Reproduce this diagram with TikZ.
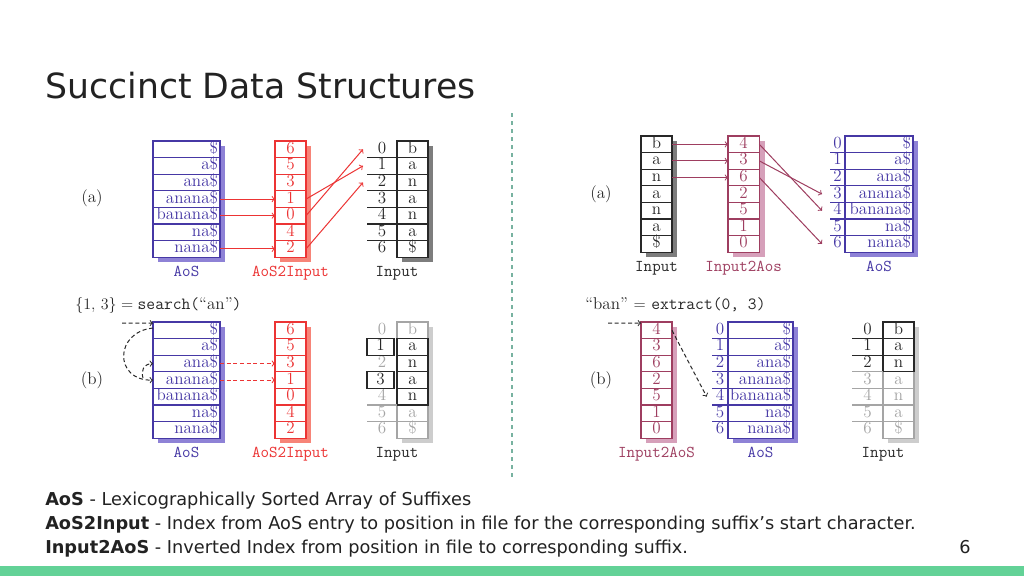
\documentclass[tikz,border=0pt]{standalone}
\usepackage{fontspec}
\usepackage{amssymb}
\usetikzlibrary{arrows,positioning,calc}

\newfontfamily\slidefont{DejaVu Sans}
\newcommand{\cellfont}{\fontsize{12.8}{14}\selectfont}
\newcommand{\tagfont}{\fontsize{12.4}{14}\selectfont\ttfamily}

\definecolor{aosblue}{RGB}{70,56,165}
\definecolor{aosshade}{RGB}{142,130,214}
\definecolor{mapred}{RGB}{236,52,52}
\definecolor{mapshade}{RGB}{247,132,120}
\definecolor{invmauve}{RGB}{158,62,96}
\definecolor{invshade}{RGB}{214,160,186}
\definecolor{inkgray}{RGB}{40,40,40}
\definecolor{inkshade}{RGB}{125,125,125}
\definecolor{fadegray}{RGB}{165,165,165}
\definecolor{fadeshade}{RGB}{205,205,205}
\definecolor{splitteal}{RGB}{120,178,160}
\definecolor{bargreen}{RGB}{99,210,151}
\definecolor{slidetext}{RGB}{34,34,34}

\begin{document}
\begin{tikzpicture}[
        x=0.75pt, y=-0.75pt,
        cell/.style={draw, fill=white, line width=0.9pt, anchor=north west, inner sep=0pt, outer sep=0pt,
            minimum height=12.45pt, text height=8.4pt, text depth=2.3pt, font=\cellfont},
        aoscell/.style={cell, draw=aosblue, text=aosblue, inner xsep=1.5pt, text width=#1, align=right},
        mapcell/.style={cell, draw=mapred, text=mapred, minimum width=23.25pt},
        invcell/.style={cell, draw=invmauve, text=invmauve, minimum width=23.5pt},
        inputcell/.style={cell, draw=inkgray, text=inkgray, minimum width=23.25pt},
        fadecell/.style={inputcell, draw=fadegray, text=fadegray},
        idx/.style={anchor=north east, inner sep=0pt, outer sep=0pt, minimum height=12.45pt,
            minimum width=#1, text height=8.4pt, text depth=2.3pt, font=\cellfont},
        tag/.style={font=\tagfont, inner sep=0pt},
        part/.style={font=\cellfont, inner sep=0pt, text=inkgray},
        query/.style={font=\cellfont, inner sep=0pt, text=inkgray, anchor=base west},
        maparrow/.style={->, line width=0.75pt, draw=mapred},
        invarrow/.style={->, line width=0.75pt, draw=invmauve},
        hintarrow/.style={->, line width=0.75pt, draw=inkgray, dash pattern=on 3pt off 2pt}
    ]

    % Page
    \fill[white] (0,0) rectangle (1024,576);
    \useasboundingbox (0,0) rectangle (1024,576);
    \fill[bargreen] (0,566) rectangle (1024,576);
    \draw[splitteal, line width=0.8pt, dash pattern=on 3pt off 3pt] (512,113) -- (512,478);

    \node[anchor=base west, inner sep=0pt, font=\slidefont\fontsize{26}{30}\selectfont, text=slidetext]
        (title) at (45,98) {Succinct Data Structures};

    % Left (a)
    \node[part] (taga) at (92,198) {(a)};
    \fill[aosshade] (158,146) rectangle ++(67,116.2);
    \fill[mapshade] (280,146) rectangle ++(31,116.2);
    \fill[inkshade] (402,146) rectangle ++(31,116.2);
    \foreach \s [count=\i from 0] in {\$,a\$,ana\$,anana\$,banana\$,na\$,nana\$}
        \node[aoscell=47.25pt] (aosa\i) at (153,141+16.6*\i) {\s};
    \foreach \s [count=\i from 0] in {6,5,3,1,0,4,2}
        \node[mapcell] (mapa\i) at (275,141+16.6*\i) {\s};
    \foreach \s [count=\i from 0] in {b,a,n,a,n,a,\$}
        \node[inputcell] (inpa\i) at (397,141+16.6*\i) {\s};
    \foreach \i in {0,...,6}
        \node[idx=22.5pt, text=inkgray] (idxa\i) at (397,141+16.6*\i) {\i};
    \foreach \i in {0,...,5}
        \draw[inkgray, line width=0.8pt] (idxa\i.south west) -- (idxa\i.south east);

    \node[tag, text=aosblue, below=6.5pt of aosa6] (aosalabel) {AoS};
    \node[tag, text=mapred, below=6.5pt of mapa6] (mapalabel) {AoS2Input};
    \node[tag, text=inkgray, below=6.5pt of inpa6.south west] (inpalabel) {Input};

    \foreach \i in {3,4,6}
        \draw[maparrow] (aosa\i.east) -- (mapa\i.west);
    \draw[maparrow] (mapa3.east) -- ([xshift=-3pt]idxa1.west);
    \draw[maparrow] (mapa4.east) -- ([xshift=-3pt]idxa0.west);
    \draw[maparrow] (mapa6.east) -- ([xshift=-3pt]idxa2.west);

    % Left (b)
    \node[query] (searchq) at (75,309)
        {$\{1,\,3\}={}$\texttt{search(}“an”\texttt{)}};
    \node[part] (tagb) at (92,380) {(b)};
    \fill[aosshade] (158,327) rectangle ++(67,116.2);
    \fill[mapshade] (280,327) rectangle ++(31,116.2);
    \fill[fadeshade] (402,327) rectangle ++(31,116.2);
    \foreach \s [count=\i from 0] in {\$,a\$,ana\$,anana\$,banana\$,na\$,nana\$}
        \node[aoscell=47.25pt] (aosb\i) at (153,322+16.6*\i) {\s};
    \foreach \s [count=\i from 0] in {6,5,3,1,0,4,2}
        \node[mapcell] (mapb\i) at (275,322+16.6*\i) {\s};
    \foreach \i/\s in {0/b,5/a,6/\$}
        \node[fadecell] (inpb\i) at (397,322+16.6*\i) {\s};
    \foreach \i/\s in {1/a,2/n,3/a,4/n}
        \node[inputcell] (inpb\i) at (397,322+16.6*\i) {\s};
    \foreach \i in {0,2,4,5,6}
        \node[idx=22.5pt, text=fadegray] (idxb\i) at (397,322+16.6*\i) {\i};
    \foreach \i in {1,3}
        \node[idx=20.25pt, draw=inkgray, line width=0.9pt, text=inkgray] (idxb\i) at (394,322+16.6*\i) {\i};
    \foreach \i in {4,5}
        \draw[fadegray, line width=0.8pt] (idxb\i.south west) -- (idxb\i.south east);

    \node[tag, text=aosblue, below=6.5pt of aosb6] (aosblabel) {AoS};
    \node[tag, text=mapred, below=6.5pt of mapb6] (mapblabel) {AoS2Input};
    \node[tag, text=inkgray, below=6.5pt of inpb6.south west] (inpblabel) {Input};

    \coordinate (searchin) at (122,323);
    \coordinate (narrowin) at (143,378);
    \draw[hintarrow] (searchin) -- ([yshift=-0.8pt]aosb0.north west);
    \draw[hintarrow] ([yshift=-4.5pt]aosb0.north west) .. controls (114,332) and (114,381) .. (aosb3.west);
    \draw[hintarrow] (narrowin) .. controls (141,371) and (143,364) .. (aosb2.west);
    \foreach \i in {2,3}
        \draw[maparrow, dash pattern=on 3pt off 2pt] (aosb\i.east) -- (mapb\i.west);

    % Right (a)
    \node[part] (tagra) at (601,194) {(a)};
    \fill[inkshade] (646,141) rectangle ++(31,116.2);
    \fill[invshade] (733,141) rectangle ++(32,116.2);
    \fill[aosshade] (850,141) rectangle ++(68,116.2);
    \foreach \s [count=\i from 0] in {b,a,n,a,n,a,\$}
        \node[inputcell] (inpra\i) at (641,136+16.6*\i) {\s};
    \foreach \s [count=\i from 0] in {4,3,6,2,5,1,0}
        \node[invcell] (invra\i) at (728,136+16.6*\i) {\s};
    \foreach \s [count=\i from 0] in {\$,a\$,ana\$,anana\$,banana\$,na\$,nana\$}
        \node[aoscell=48pt] (aosra\i) at (845,136+16.6*\i) {\s};
    \foreach \i in {0,...,6}
        \node[idx=11.25pt, text=aosblue] (idxra\i) at (845,136+16.6*\i) {\i};
    \foreach \i in {0,...,5}
        \draw[aosblue, line width=0.8pt] (idxra\i.south west) -- (idxra\i.south east);

    \node[tag, text=inkgray, below=6.5pt of inpra6] (inpralabel) {Input};
    \node[tag, text=invmauve, below=6.5pt of invra6] (invralabel) {Input2Aos};
    \node[tag, text=aosblue, below=6.5pt of aosra6] (aosralabel) {AoS};

    \foreach \i in {0,1,2}
        \draw[invarrow] (inpra\i.east) -- (invra\i.west);
    \draw[invarrow] (invra0.east) -- ([xshift=-6pt]idxra4.west);
    \draw[invarrow] (invra1.east) -- ([xshift=-6pt]idxra3.west);
    \draw[invarrow] (invra2.east) -- ([xshift=-6pt]idxra6.west);

    % Right (b)
    \node[query] (extractq) at (585,309)
        {“ban” $=$ \texttt{extract(0, 3)}};
    \node[part] (tagrb) at (601,380) {(b)};
    \fill[invshade] (646,327) rectangle ++(31,116.2);
    \fill[aosshade] (733,327) rectangle ++(65,116.2);
    \fill[fadeshade] (888,327) rectangle ++(31,116.2);
    \foreach \s [count=\i from 0] in {4,3,6,2,5,1,0}
        \node[invcell, minimum width=23.25pt] (invrb\i) at (641,322+16.6*\i) {\s};
    \foreach \s [count=\i from 0] in {\$,a\$,ana\$,anana\$,banana\$,na\$,nana\$}
        \node[aoscell=45.75pt] (aosrb\i) at (728,322+16.6*\i) {\s};
    \foreach \i in {0,...,6}
        \node[idx=12pt, text=aosblue] (idxrb\i) at (728,322+16.6*\i) {\i};
    \foreach \i in {0,...,5}
        \draw[aosblue, line width=0.8pt] (idxrb\i.south west) -- (idxrb\i.south east);
    \foreach \i/\s in {3/a,4/n,5/a,6/\$}
        \node[fadecell] (inprb\i) at (883,322+16.6*\i) {\s};
    \foreach \i/\s in {0/b,1/a,2/n}
        \node[inputcell] (inprb\i) at (883,322+16.6*\i) {\s};
    \foreach \i in {0,1,2}
        \node[idx=23.25pt, text=inkgray] (idxrc\i) at (883,322+16.6*\i) {\i};
    \foreach \i in {3,...,6}
        \node[idx=23.25pt, text=fadegray] (idxrc\i) at (883,322+16.6*\i) {\i};
    \foreach \i in {0,1}
        \draw[inkgray, line width=0.8pt] (idxrc\i.south west) -- (idxrc\i.south east);
    \foreach \i in {2,...,5}
        \draw[fadegray, line width=0.8pt] (idxrc\i.south west) -- (idxrc\i.south east);

    \node[tag, text=invmauve, below=6.5pt of invrb6] (invrblabel) {Input2AoS};
    \node[tag, text=aosblue, below=6.5pt of aosrb6] (aosrblabel) {AoS};
    \node[tag, text=inkgray, below=6.5pt of inprb6.south west] (inprblabel) {Input};

    \coordinate (extractin) at (608,323);
    \draw[hintarrow] (extractin) -- ([yshift=-0.8pt]invrb0.north west);
    \draw[hintarrow] (invrb0.east) -- ([xshift=-4pt]idxrb4.west);

    % Notes
    \node[anchor=base west, inner sep=0pt, font=\slidefont\fontsize{13.3}{16}\selectfont, text=slidetext]
        (noteaos) at (45,505) {\textbf{AoS} - Lexicographically Sorted Array of Suffixes};
    \node[anchor=base west, inner sep=0pt, font=\slidefont\fontsize{13.3}{16}\selectfont, text=slidetext]
        (notemap) at (45,529) {\textbf{AoS2Input} - Index from AoS entry to position in file for the corresponding suffix’s start character.};
    \node[anchor=base west, inner sep=0pt, font=\slidefont\fontsize{13.3}{16}\selectfont, text=slidetext]
        (noteinv) at (45,553) {\textbf{Input2AoS} - Inverted Index from position in file to corresponding suffix.};
    \node[anchor=base, inner sep=0pt, font=\slidefont\fontsize{13.3}{16}\selectfont, text=slidetext]
        (pagenum) at (965,553) {6};

\end{tikzpicture}
\end{document}
